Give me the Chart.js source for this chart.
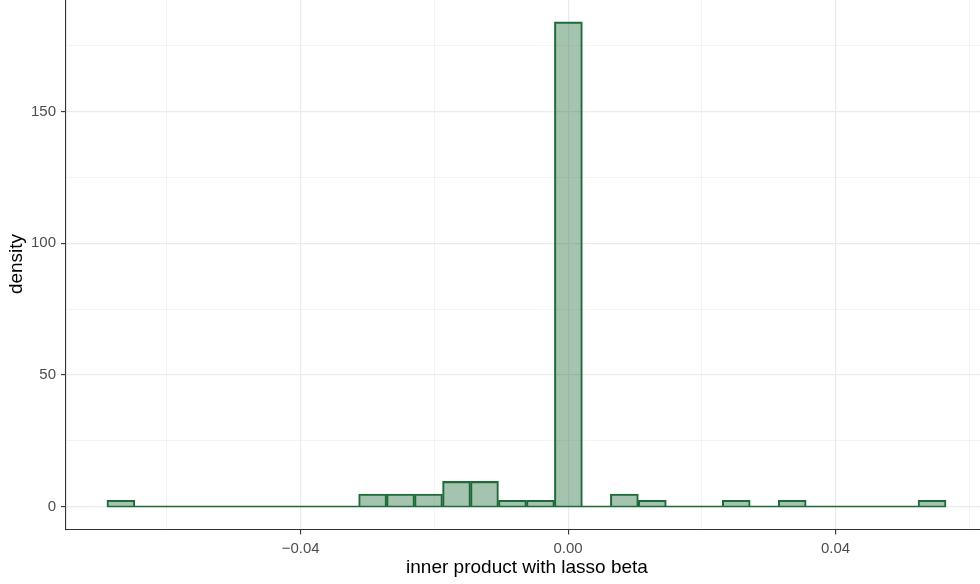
<!DOCTYPE html>
<html>
<head>
<meta charset="utf-8">
<script src="https://cdn.jsdelivr.net/npm/chart.js@4"></script>
<style>
  html, body { margin: 0; padding: 0; background: #ffffff; }
  #wrap { position: relative; width: 980px; height: 584px; overflow: hidden; background: #ffffff; }
  #c { position: absolute; left: 0; top: -16px; }
</style>
</head>
<body>
<div id="wrap"><canvas id="c" width="990" height="600"></canvas></div>
<script>
// ---- data ----
const binWidth = 0.004183;
const binCenters = [
  -0.06689, -0.06271, -0.05852, -0.05434, -0.05016, -0.04597, -0.04179, -0.03761, -0.03342, -0.02924,
  -0.02506, -0.02088, -0.01669, -0.01251, -0.00833, -0.00414, 0.00004, 0.00422, 0.00841, 0.01259,
  0.01677, 0.02096, 0.02514, 0.02932, 0.03351, 0.03769, 0.04187, 0.04606, 0.05024, 0.05443
];
const density = [
  2.39, 0, 0, 0, 0, 0, 0, 0, 0, 4.78,
  4.78, 4.78, 9.56, 9.56, 2.39, 2.39, 184.1, 0, 4.78, 2.39,
  0, 0, 2.39, 0, 2.39, 0, 0, 0, 0, 2.39
];
const xTicks = [-0.06, -0.04, -0.02, 0, 0.02, 0.04, 0.06];
const xTickLabels = ['', '\u22120.04', '', '0.00', '', '0.04', ''];
const yTicks = [0, 25, 50, 75, 100, 125, 150, 175];
const yTickLabels = ['0', '', '50', '', '100', '', '150', ''];
const xLimits = [-0.0751, 0.0628];
const yLimits = [-8.9, 193.2];
const xTitle = 'inner product with lasso beta';
const yTitle = 'density';

// ---- build ----
const barData = binCenters.map((c, i) => ({ x: c, y: density[i] }));
const lo = binCenters[0] - binWidth / 2;
const hi = binCenters[binCenters.length - 1] + binWidth / 2;
const baseData = [{ x: lo, y: 0 }, { x: hi, y: 0 }];

const GREEN = '#1e6b3a';
const FILL = 'rgba(30,107,58,0.4)';
const FONT = "'Liberation Sans', Arial, Helvetica, sans-serif";

function isMajor(labels, ctx) {
  const i = ctx.index;
  return labels[i] !== undefined && labels[i] !== '';
}

new Chart(document.getElementById('c'), {
  type: 'bar',
  data: {
    datasets: [
      {
        type: 'line',
        data: baseData,
        borderColor: GREEN,
        borderWidth: 1.6,
        pointRadius: 0,
        fill: false,
        order: 0
      },
      {
        type: 'bar',
        data: barData,
        backgroundColor: FILL,
        borderColor: GREEN,
        borderWidth: 1.4,
        borderSkipped: 'start',
        barPercentage: 1,
        categoryPercentage: 1,
        order: 1
      }
    ]
  },
  options: {
    responsive: false,
    animation: false,
    devicePixelRatio: 1,
    layout: { padding: { left: 0, right: 2, top: 0, bottom: 0 } },
    plugins: { legend: { display: false }, tooltip: { enabled: false } },
    scales: {
      x: {
        type: 'linear',
        min: xLimits[0],
        max: xLimits[1],
        offset: false,
        afterBuildTicks: (s) => { s.ticks = xTicks.map(v => ({ value: v })); },
        afterFit: (s) => { s.height = 54; },
        grid: {
          offset: false,
          color: '#ebebeb',
          lineWidth: (ctx) => isMajor(xTickLabels, ctx) ? 1.2 : 0.6,
          tickLength: 4.5,
          tickColor: (ctx) => isMajor(xTickLabels, ctx) ? '#333333' : 'rgba(0,0,0,0)',
          tickWidth: 1.1
        },
        border: { display: true, color: '#333333', width: 1.1 },
        ticks: {
          autoSkip: false,
          maxRotation: 0,
          padding: 5,
          color: '#4d4d4d',
          font: { family: FONT, size: 15 },
          callback: (v, i) => xTickLabels[i]
        },
        title: {
          display: true,
          text: xTitle,
          color: '#000000',
          font: { family: FONT, size: 19 },
          padding: { top: 0, bottom: 5 }
        }
      },
      y: {
        type: 'linear',
        min: yLimits[0],
        max: yLimits[1],
        afterBuildTicks: (s) => { s.ticks = yTicks.map(v => ({ value: v })); },
        afterFit: (s) => { s.width = 66; },
        grid: {
          color: '#ebebeb',
          lineWidth: (ctx) => isMajor(yTickLabels, ctx) ? 1.2 : 0.6,
          tickLength: 5,
          tickColor: (ctx) => isMajor(yTickLabels, ctx) ? '#333333' : 'rgba(0,0,0,0)',
          tickWidth: 1.1
        },
        border: { display: true, color: '#333333', width: 1.1 },
        ticks: {
          autoSkip: false,
          padding: 5,
          color: '#4d4d4d',
          font: { family: FONT, size: 15 },
          callback: (v, i) => yTickLabels[i]
        },
        title: {
          display: true,
          text: yTitle,
          color: '#000000',
          font: { family: FONT, size: 19 },
          padding: { top: 5, bottom: 0 }
        }
      }
    }
  }
});
</script>
</body>
</html>
